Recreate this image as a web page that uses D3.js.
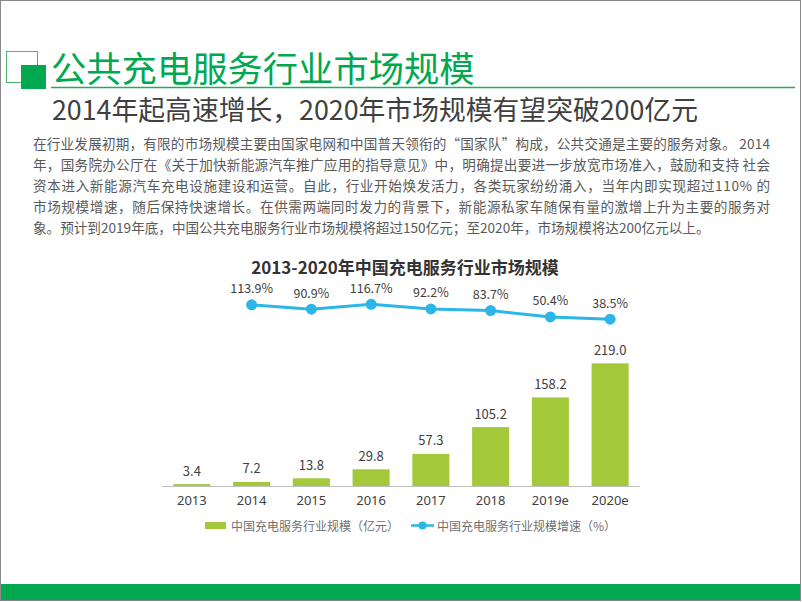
<!DOCTYPE html>
<html><head><meta charset="utf-8">
<script src="https://cdn.jsdelivr.net/npm/d3@7"></script>
<style>
html,body{margin:0;padding:0;background:#fff;}
svg{display:block;font-family:"Noto Sans CJK SC","Noto Sans",sans-serif;}
</style></head>
<body>
<svg id="c" width="802" height="602"></svg>
<script>
const categories = ['2013','2014','2015','2016','2017','2018','2019e','2020e'];
const marketSize = [3.4, 7.2, 13.8, 29.8, 57.3, 105.2, 158.2, 219.0];
const growthCategories = ['2014','2015','2016','2017','2018','2019e','2020e'];
const growthRate = [113.9, 90.9, 116.7, 92.2, 83.7, 50.4, 38.5];
const pageTitle = '公共充电服务行业市场规模';
const subTitle = '2014年起高速增长，2020年市场规模有望突破200亿元';
const paragraph = [
  '在行业发展初期，有限的市场规模主要由国家电网和中国普天领衔的“国家队”构成，公共交通是主要的服务对象。 2014',
  '年，国务院办公厅在《关于加快新能源汽车推广应用的指导意见》中，明确提出要进一步放宽市场准入，鼓励和支持 社会',
  '资本进入新能源汽车充电设施建设和运营。自此，行业开始焕发活力，各类玩家纷纷涌入，当年内即实现超过110% 的',
  '市场规模增速，随后保持快速增长。在供需两端同时发力的背景下，新能源私家车随保有量的激增上升为主要的服务对',
  '象。预计到2019年底，中国公共充电服务行业市场规模将超过150亿元；至2020年，市场规模将达200亿元以上。'
];
const chartTitle = '2013-2020年中国充电服务行业市场规模';
const legendLabels = ['中国充电服务行业规模（亿元）', '中国充电服务行业规模增速（%）'];

const svg = d3.select('#c');
const GREEN = '#00a84f', BAR = '#a3c93a', LINE = '#2cb6e8';

// frame
svg.append('rect').attr('x',0.5).attr('y',0.5).attr('width',800).attr('height',600)
  .attr('fill','none').attr('stroke','#8a8a8a').attr('stroke-width',1);
svg.append('rect').attr('x',1).attr('y',584).attr('width',799).attr('height',16).attr('fill',GREEN);

// header icon
svg.append('rect').attr('x',6.5).attr('y',51.5).attr('width',31).attr('height',31)
  .attr('fill','none').attr('stroke','#4cb46e').attr('stroke-width',1);
svg.append('rect').attr('x',21).attr('y',65).attr('width',25).attr('height',24).attr('fill',GREEN);

svg.append('text').attr('x',51).attr('y',66).attr('dominant-baseline','central')
  .attr('font-size',35.3).attr('fill',GREEN).text(pageTitle);
svg.append('line').attr('x1',51).attr('x2',795).attr('y1',87.5).attr('y2',87.5)
  .attr('stroke','#2aa860').attr('stroke-width',1.5);
svg.append('text').attr('x',52).attr('y',108).attr('dominant-baseline','central')
  .attr('font-size',26.8).attr('fill','#404040').text(subTitle);

// paragraph
const pg = svg.append('g');
paragraph.forEach((t,i)=>{
  const tx = pg.append('text').attr('x',33).attr('y',143+i*21).attr('dominant-baseline','central')
    .attr('font-size',13.6).attr('fill','#595959').text(t);
  if(i<4) tx.attr('textLength',737).attr('lengthAdjust','spacing');
});

// chart
svg.append('text').attr('x',405).attr('y',266).attr('dominant-baseline','central')
  .attr('text-anchor','middle').attr('font-size',17).attr('font-weight','bold')
  .attr('fill','#333').text(chartTitle);

const x = d3.scaleBand().domain(categories).range([162,640]).paddingInner(0.38).paddingOuter(0.19);
const y = d3.scaleLinear().domain([0,250]).range([486,346]);
const yr = d3.scaleLinear().domain([0,150]).range([326.5,298]);

svg.append('g').selectAll('rect').data(categories).join('rect')
  .attr('x',d=>x(d)).attr('width',x.bandwidth())
  .attr('y',(d,i)=>y(marketSize[i])).attr('height',(d,i)=>y(0)-y(marketSize[i]))
  .attr('fill',BAR);

svg.append('g').selectAll('text').data(categories).join('text')
  .attr('x',d=>x(d)+x.bandwidth()/2).attr('y',(d,i)=>y(marketSize[i])-14)
  .attr('text-anchor','middle').attr('dominant-baseline','central')
  .attr('font-size',13).attr('fill','#404040').text((d,i)=>marketSize[i].toFixed(1));

const xAxis = svg.append('g').attr('transform','translate(0,486)')
  .call(d3.axisBottom(x).tickSize(0).tickPadding(10).tickSizeOuter(0));
xAxis.select('.domain').attr('stroke','#bfbfbf').attr('d','M162,0.5H640');
xAxis.selectAll('text').attr('font-size',13).attr('fill','#404040')
  .attr('font-family','"Noto Sans","Open Sans",sans-serif');

const cx = d => x(d)+x.bandwidth()/2;
const line = d3.line().x((d,i)=>cx(growthCategories[i])).y(d=>yr(d));
svg.append('path').datum(growthRate).attr('d',line).attr('fill','none')
  .attr('stroke',LINE).attr('stroke-width',3);
svg.append('g').selectAll('circle').data(growthRate).join('circle')
  .attr('cx',(d,i)=>cx(growthCategories[i])).attr('cy',d=>yr(d)).attr('r',5.5).attr('fill',LINE);
svg.append('g').selectAll('text').data(growthRate).join('text')
  .attr('x',(d,i)=>cx(growthCategories[i])).attr('y',d=>yr(d)-17)
  .attr('text-anchor','middle').attr('dominant-baseline','central')
  .attr('font-size',12.5).attr('fill','#404040').text(d=>d.toFixed(1)+'%');

// legend
const lg = svg.append('g');
lg.append('rect').attr('x',205).attr('y',522).attr('width',21).attr('height',7).attr('fill',BAR);
lg.append('text').attr('x',231).attr('y',525.5).attr('dominant-baseline','central')
  .attr('font-size',12).attr('fill','#707070').text(legendLabels[0]);
lg.append('line').attr('x1',411).attr('x2',434).attr('y1',525.5).attr('y2',525.5)
  .attr('stroke',LINE).attr('stroke-width',2.5);
lg.append('circle').attr('cx',422.5).attr('cy',525.5).attr('r',4).attr('fill',LINE);
lg.append('text').attr('x',437).attr('y',525.5).attr('dominant-baseline','central')
  .attr('font-size',12).attr('fill','#707070').text(legendLabels[1]);
</script>
</body></html>
